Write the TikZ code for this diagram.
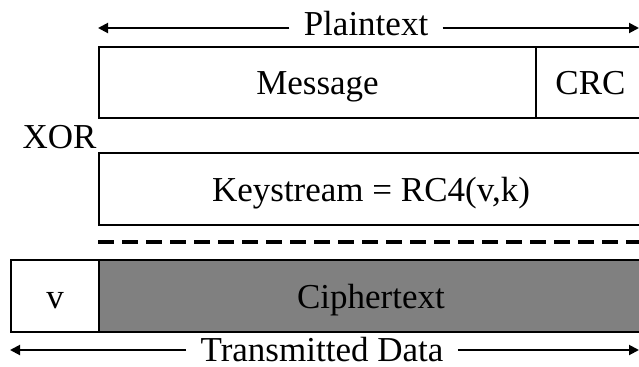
\documentclass[tikz,border=0pt]{standalone}
\usepackage{fontspec}
\setmainfont{Liberation Serif}
\usetikzlibrary{arrows.meta}
\definecolor{ciph}{RGB}{128,128,128}
\begin{document}
\begin{tikzpicture}[x=0.5pt,y=-0.5pt,
  font=\fontsize{17.5pt}{20pt}\selectfont,
  box/.style={draw=black,line width=1.25pt,inner sep=0pt,minimum height=35.5pt,
    text height=12pt,text depth=0pt},
  lab/.style={inner sep=0pt,inner xsep=7pt,text height=12pt,text depth=5pt},
  arr/.style={line width=1pt,-{Triangle[length=5pt,width=5pt]}},
  dashline/.style={line width=2pt,dash pattern=on 8pt off 4pt}]
\clip (0,0) rectangle (639,366);
\fill[white] (0,0) rectangle (639,366);
% Plaintext
\node[lab] (pt) at (366,28) {Plaintext};
\coordinate (ptl) at (98,28);
\coordinate (ptr) at (639,28);
\draw[arr] (pt.west) -- (ptl);
\draw[arr] (pt.east) -- (ptr);
% Message / CRC
\node[box,minimum width=218.5pt] (msg) at (317.5,82.5) {Message};
\node[box,minimum width=54.5pt] (crc) at (590.5,82.5) {CRC};
% XOR
\node[inner sep=0pt,anchor=base east] (xor) at (97,148) {XOR};
% Keystream
\node[box,minimum width=272pt,minimum height=36pt] (ks) at (371,189) {Keystream = RC4(v,k)};
% dashed line
\coordinate (d1) at (98,242);
\coordinate (d2) at (660,242);
\draw[dashline] (d1) -- (d2);
% bottom row
\node[box,minimum width=44pt,minimum height=36pt] (v) at (55,296) {v};
\node[box,fill=ciph,minimum width=272pt,minimum height=36pt] (ct) at (371,296) {Ciphertext};
% Transmitted data
\node[lab,text depth=1pt] (td) at (322,350) {Transmitted Data};
\coordinate (tdl) at (10,350);
\coordinate (tdr) at (639,350);
\draw[arr] (td.west) -- (tdl);
\draw[arr] (td.east) -- (tdr);
\end{tikzpicture}
\end{document}
